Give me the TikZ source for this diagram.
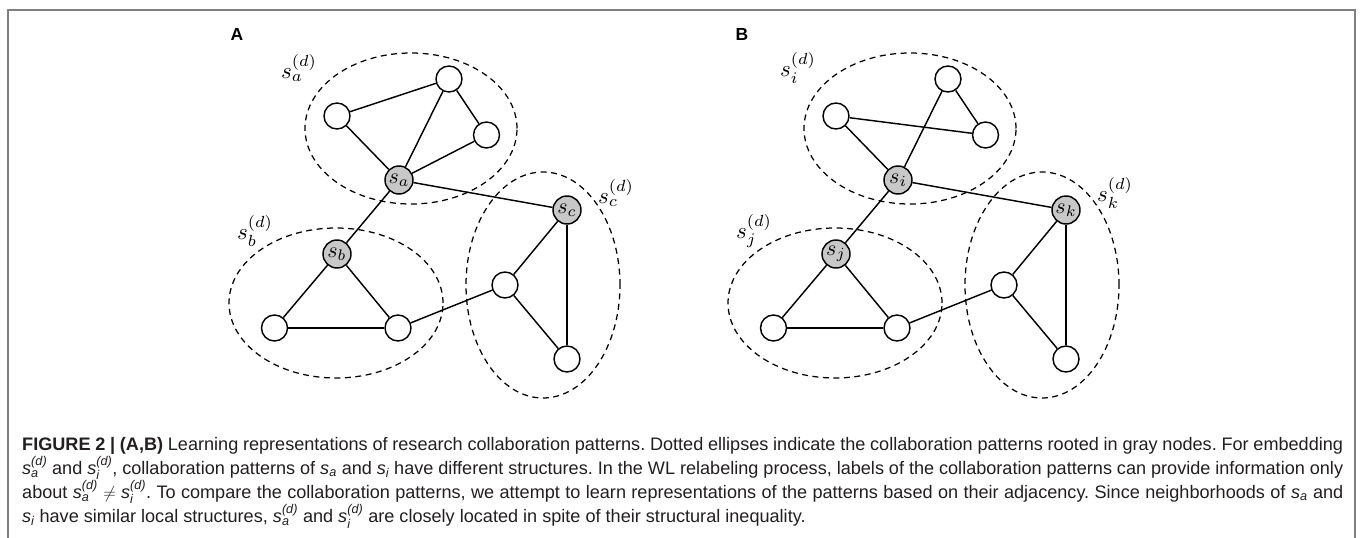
\documentclass[tikz,border=0pt]{standalone}
\usepackage{graphicx}
\usepackage{amsmath}
\usepackage{fontspec}
\newfontfamily\capfont{Liberation Sans}
\usetikzlibrary{shapes.geometric}
\definecolor{framegray}{RGB}{128,128,128}
\definecolor{rootgray}{RGB}{200,200,200}
\definecolor{captext}{RGB}{35,31,32}
% caption symbols: s with subscript and superscript (d)
\newcommand\csym[1]{\textit{s}$^{\textit{(d)}}_{\textit{#1}}$}
\newcommand\cvar[1]{\textit{s}$_{\textit{#1}}$}
\newcommand\capline[1]{\makebox[1321pt][s]{#1}}
% enlarged math for the graph labels
\newcommand\glabel[2]{\scalebox{#1}{\fontsize{10}{12}\selectfont$#2$}}
\frenchspacing
\begin{document}
\begin{tikzpicture}[x=1pt,y=-1pt,
  vert/.style={circle,draw,line width=1.45pt,fill=white,minimum size=26pt,inner sep=0pt},
  root/.style={vert,fill=rootgray,minimum size=28pt},
  edge/.style={line width=1.45pt},
  patt/.style={ellipse,draw,dashed,line width=1.25pt,dash pattern=on 6pt off 4.5pt,inner sep=0pt},
  plabel/.style={inner sep=0pt},
  panel/.style={inner sep=0pt,font=\capfont\bfseries\fontsize{17.5}{20}\selectfont},
  capt/.style={anchor=base west,inner sep=0pt,text=captext,font=\capfont\fontsize{18.1}{22}\selectfont}]
\useasboundingbox (0,0) rectangle (1360,538);
\fill[white] (0,0) rectangle (1360,538);
% outer frame
\draw[framegray,line width=2pt] (7.5,538) -- (7.5,10) -- (1355,10) -- (1355,538);

% ---------- panel A ----------
\node[panel] (tA) at (237,34) {A};
\node[patt,minimum width=212pt,minimum height=151pt] (ea) at (411,128.5) {};
\node[patt,minimum width=214pt,minimum height=150pt] (eb) at (336,303) {};
\node[patt,minimum width=154pt,minimum height=226pt] (ec) at (543,285) {};
\node[plabel] (la) at (299,68) {\glabel{2.3}{s_a^{(d)}}};
\node[plabel] (lb) at (255,231) {\glabel{2.3}{s_b^{(d)}}};
\node[plabel] (lc) at (616,193) {\glabel{2.3}{s_c^{(d)}}};

\node[vert] (aL) at (337,116) {};
\node[vert] (aT) at (449,79) {};
\node[vert] (aR) at (486.5,135) {};
\node[root] (sa) at (399,180) {\glabel{2.2}{s_a}};
\node[root] (sc) at (567,210) {\glabel{2.2}{s_c}};
\node[root] (sb) at (337,254) {\glabel{2.2}{s_b}};
\node[vert] (aBL) at (274.5,328) {};
\node[vert] (aBR) at (398,328) {};
\node[vert] (aCM) at (505,285) {};
\node[vert] (aCB) at (567,359) {};

\draw[edge] (aL) -- (aT);
\draw[edge] (aL) -- (sa);
\draw[edge] (aT) -- (sa);
\draw[edge] (aT) -- (aR);
\draw[edge] (aR) -- (sa);
\draw[edge] (sa) -- (sc);
\draw[edge] (sa) -- (sb);
\draw[edge] (sb) -- (aBL);
\draw[edge] (sb) -- (aBR);
\draw[edge] (aBL) -- (aBR);
\draw[edge] (aBR) -- (aCM);
\draw[edge] (aCM) -- (sc);
\draw[edge] (aCM) -- (aCB);
\draw[edge] (sc) -- (aCB);

% ---------- panel B ----------
\begin{scope}[xshift=499pt]
\node[panel] (tB) at (243,34) {B};
\node[patt,minimum width=212pt,minimum height=151pt] (ei) at (411,128.5) {};
\node[patt,minimum width=214pt,minimum height=150pt] (ej) at (336,303) {};
\node[patt,minimum width=154pt,minimum height=226pt] (ek) at (543,285) {};
\node[plabel] (li) at (299,68) {\glabel{2.3}{s_i^{(d)}}};
\node[plabel] (lj) at (255,231) {\glabel{2.3}{s_j^{(d)}}};
\node[plabel] (lk) at (616,193) {\glabel{2.3}{s_k^{(d)}}};

\node[vert] (bL) at (337,116) {};
\node[vert] (bT) at (449,79) {};
\node[vert] (bR) at (486.5,135) {};
\node[root] (si) at (399,180) {\glabel{2.2}{s_i}};
\node[root] (sk) at (567,210) {\glabel{2.2}{s_k}};
\node[root] (sj) at (337,254) {\glabel{2.2}{s_j}};
\node[vert] (bBL) at (274.5,328) {};
\node[vert] (bBR) at (398,328) {};
\node[vert] (bKM) at (505,285) {};
\node[vert] (bKB) at (567,359) {};

\draw[edge] (bL) -- (bR);
\draw[edge] (bL) -- (si);
\draw[edge] (bT) -- (si);
\draw[edge] (bT) -- (bR);
\draw[edge] (si) -- (sk);
\draw[edge] (si) -- (sj);
\draw[edge] (sj) -- (bBL);
\draw[edge] (sj) -- (bBR);
\draw[edge] (bBL) -- (bBR);
\draw[edge] (bBR) -- (bKM);
\draw[edge] (bKM) -- (sk);
\draw[edge] (bKM) -- (bKB);
\draw[edge] (sk) -- (bKB);
\end{scope}

% ---------- caption ----------
\node[capt] (c1) at (22,450) {\capline{\textbf{FIGURE 2 | (A,B)} Learning representations of research collaboration patterns. Dotted ellipses indicate the collaboration patterns rooted in gray nodes. For embedding}};
\node[capt] (c2) at (22,474) {\capline{\csym{a} and \csym{i}, collaboration patterns of \cvar{a} and \cvar{i} have different structures. In the WL relabeling process, labels of the collaboration patterns can provide information only}};
\node[capt] (c3) at (22,498) {\capline{about \csym{a} $\neq$ \csym{i}. To compare the collaboration patterns, we attempt to learn representations of the patterns based on their adjacency. Since neighborhoods of \cvar{a} and}};
\node[capt] (c4) at (22,522) {\cvar{i} have similar local structures, \csym{a} and \csym{i} are closely located in spite of their structural inequality.};
\end{tikzpicture}
\end{document}
